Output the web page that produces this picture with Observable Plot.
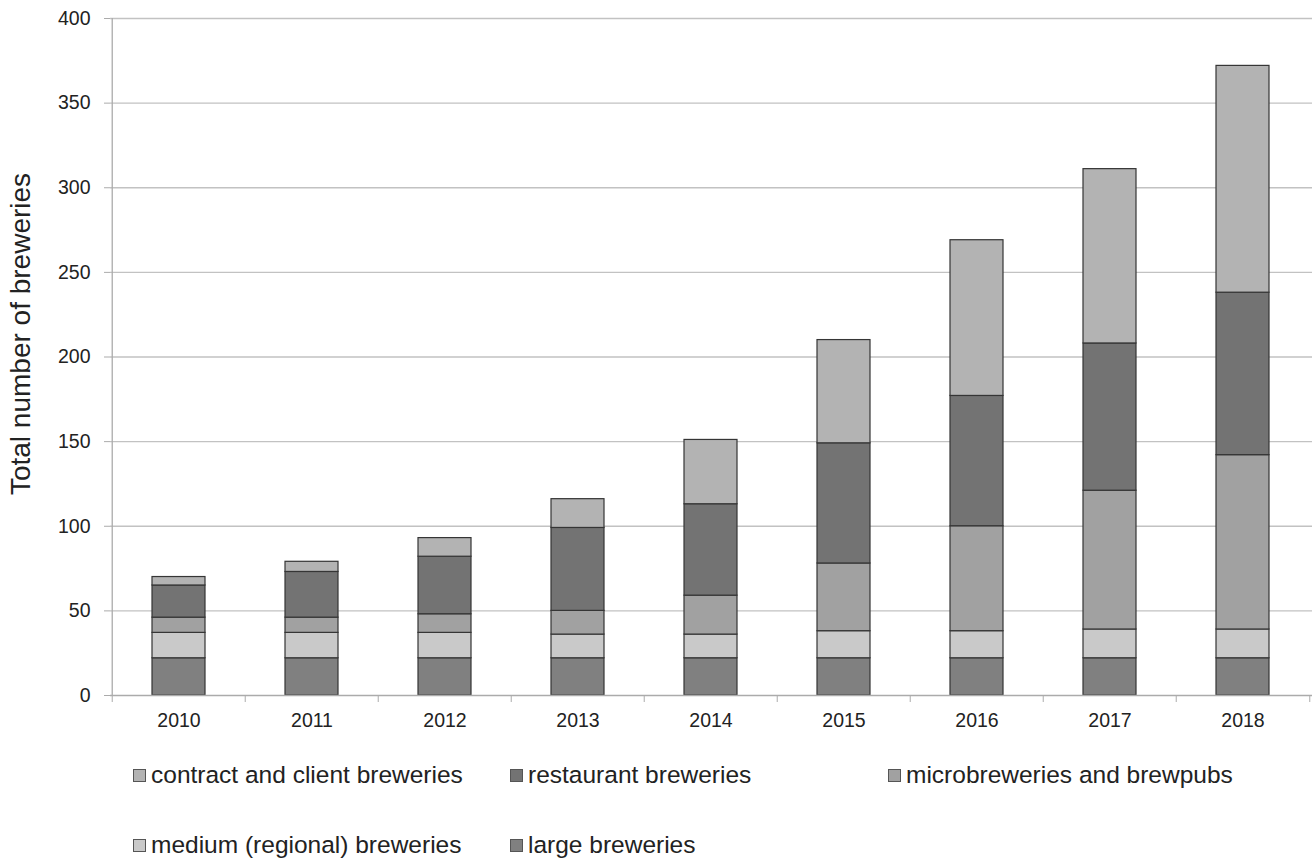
<!DOCTYPE html>
<html><head><meta charset="utf-8">
<script src="https://cdn.jsdelivr.net/npm/d3@7"></script>
<script src="https://cdn.jsdelivr.net/npm/@observablehq/plot@0.6"></script>
<style>
body{margin:0;background:#fff;font-family:"Liberation Sans",Arial,sans-serif;}
#wrap{position:relative;width:1313px;height:859px;overflow:hidden;background:#fff}
#ytitle{position:absolute;left:21px;top:334px;transform:translate(-50%,-50%) rotate(-90deg);white-space:nowrap;font-size:28px;color:#222}
.leg{position:absolute;display:flex;align-items:center;height:30px;white-space:nowrap;font-size:24.5px;color:#222}
.leg .sw{width:11px;height:11px;border:1px solid #555;margin-right:5px;flex:none}
</style></head><body><div id="wrap"></div>
<script>
const years = ["2010","2011","2012","2013","2014","2015","2016","2017","2018"];
const large      = [22, 22, 22, 22, 22, 22, 22, 22, 22];
const medium     = [15, 15, 15, 14, 14, 16, 16, 17, 17];
const micro      = [9, 9, 11, 14, 23, 40, 62, 82, 103];
const restaurant = [19, 27, 34, 49, 54, 71, 77, 87, 96];
const contract   = [5, 6, 11, 17, 38, 61, 92, 103, 134];
const categories = ["large breweries","medium (regional) breweries","microbreweries and brewpubs","restaurant breweries","contract and client breweries"];
const colors = ["#808080","#c9c9c9","#a1a1a1","#737373","#b3b3b3"];
const yTicks = [0,50,100,150,200,250,300,350,400];
const legendOrder = ["contract and client breweries","restaurant breweries","microbreweries and brewpubs","medium (regional) breweries","large breweries"];

const series = [large, medium, micro, restaurant, contract];
const data = [];
years.forEach((y,i)=>series.forEach((s,k)=>data.push({year:y, cat:categories[k], value:s[i]})));

const W=1313, H=740, mL=110, mR=1, mT=18, mB=45;
const step = (W-mL-mR)/years.length;
const axisColor = "#ababab";

const chart = Plot.plot({
  width:W, height:H, marginLeft:mL, marginRight:mR, marginTop:mT, marginBottom:mB,
  style:{fontFamily:"'Liberation Sans', Arial, sans-serif", fontSize:"19.5px", color:"#222", background:"white", overflow:"visible"},
  x:{domain:years, paddingInner:0.6, paddingOuter:0.3, label:null},
  y:{domain:[0,400], label:null},
  color:{domain:categories, range:colors},
  marks:[
    Plot.ruleY(yTicks.filter(d=>d>0), {stroke:"#c2c2c2", strokeWidth:1.3}),
    Plot.barY(data,{x:"year", y:"value", fill:"cat", stroke:"#353535", strokeWidth:1.2, order:categories}),
    Plot.ruleY([0], {stroke:axisColor, strokeWidth:1.3}),
    Plot.ruleX([years[0]], {dx:-step/2, stroke:axisColor, strokeWidth:1.3}),
    Plot.axisY({ticks:yTicks, tickSize:6, tickPadding:14, stroke:axisColor, label:null}),
    Plot.axisX({tickSize:0, tickPadding:18, label:null}),
    Plot.axisX({tickSize:7, dx:-step/2, tickFormat:()=>"", stroke:axisColor, label:null}),
    Plot.axisX({ticks:[years[years.length-1]], tickSize:7, dx:step/2, tickFormat:()=>"", stroke:axisColor, label:null})
  ]
});
const wrap = document.getElementById("wrap");
wrap.appendChild(chart);

const t = document.createElement("div");
t.id = "ytitle"; t.textContent = "Total number of breweries";
wrap.appendChild(t);

const colX = [133, 510, 888], rowY = [775, 845];
legendOrder.forEach((name,i)=>{
  const d = document.createElement("div");
  d.className = "leg";
  d.style.left = colX[i%3]+"px";
  d.style.top = (rowY[Math.floor(i/3)]-15)+"px";
  const sw = document.createElement("span");
  sw.className = "sw";
  sw.style.background = colors[categories.indexOf(name)];
  const tx = document.createElement("span");
  tx.textContent = name;
  d.appendChild(sw); d.appendChild(tx);
  wrap.appendChild(d);
});
</script></body></html>
